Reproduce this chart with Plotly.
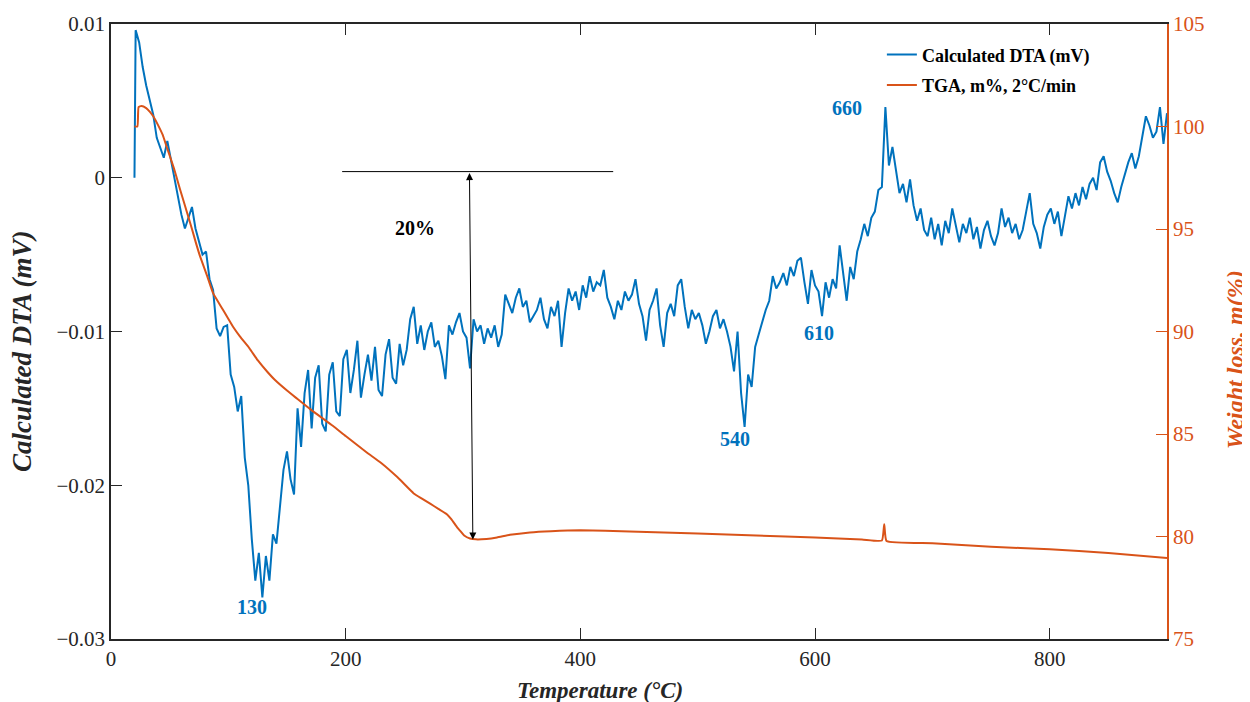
import plotly.graph_objects as go

# ---------------- data ----------------
# DTA signal (mV) on a 3 °C grid (plus the start point at 20 °C)
dta_temp = [20] + list(range(21, 901, 3))
dta_mV = [
    0.0000,
    0.0096, 0.0088, 0.0072, 0.0060, 0.0050, 0.0041, 0.0026, 0.0020, 0.0013, 0.0024,      # 21-48
    0.0012, 0.0002, -0.0012, -0.0024, -0.0033, -0.0026, -0.0019, -0.0033, -0.0042, -0.0050,  # 51-78
    -0.0048, -0.0066, -0.0073, -0.0098, -0.0103, -0.0097, -0.0096, -0.0128, -0.0136, -0.0152,  # 81-108
    -0.0142, -0.0182, -0.0200, -0.0235, -0.0262, -0.0244, -0.0273, -0.0246, -0.0262, -0.0232,  # 111-138
    -0.0238, -0.0214, -0.0190, -0.0178, -0.0196, -0.0206, -0.0150, -0.0175, -0.0140, -0.0125,  # 141-168
    -0.0163, -0.0130, -0.0122, -0.0160, -0.0165, -0.0128, -0.0120, -0.0152, -0.0155, -0.0118,  # 171-198
    -0.0112, -0.0140, -0.0125, -0.0106, -0.0143, -0.0128, -0.0115, -0.0132, -0.0110, -0.0138,  # 201-228
    -0.0142, -0.0115, -0.0105, -0.0130, -0.0134, -0.0108, -0.0122, -0.0112, -0.0092, -0.0084,  # 231-258
    -0.0108, -0.0096, -0.0112, -0.0100, -0.0094, -0.0110, -0.0106, -0.0116, -0.0131, -0.0096,  # 261-288
    -0.0102, -0.0094, -0.0088, -0.0100, -0.0104, -0.0124, -0.0092, -0.0100, -0.0096, -0.0108,  # 291-318
    -0.0098, -0.0104, -0.0096, -0.0110, -0.0102, -0.0076, -0.0082, -0.0088, -0.0078, -0.0072,  # 321-348
    -0.0084, -0.0080, -0.0094, -0.0090, -0.0086, -0.0078, -0.0092, -0.0098, -0.0084, -0.0090,  # 351-378
    -0.0080, -0.0110, -0.0088, -0.0072, -0.0080, -0.0074, -0.0086, -0.0070, -0.0078, -0.0064,  # 381-408
    -0.0074, -0.0068, -0.0070, -0.0060, -0.0078, -0.0084, -0.0092, -0.0080, -0.0086, -0.0074,  # 411-438
    -0.0080, -0.0076, -0.0066, -0.0082, -0.0090, -0.0106, -0.0086, -0.0080, -0.0072, -0.0096,  # 441-468
    -0.0110, -0.0088, -0.0082, -0.0090, -0.0070, -0.0066, -0.0084, -0.0098, -0.0086, -0.0092,  # 471-498
    -0.0088, -0.0096, -0.0108, -0.0100, -0.0090, -0.0086, -0.0098, -0.0092, -0.0100, -0.0110,  # 501-528
    -0.0126, -0.0100, -0.0140, -0.0162, -0.0128, -0.0136, -0.0110, -0.0102, -0.0094, -0.0086,  # 531-558
    -0.0080, -0.0064, -0.0072, -0.0068, -0.0062, -0.0070, -0.0058, -0.0064, -0.0054, -0.0052,  # 561-588
    -0.0068, -0.0082, -0.0060, -0.0070, -0.0074, -0.0090, -0.0068, -0.0078, -0.0066, -0.0072,  # 591-618
    -0.0044, -0.0062, -0.0080, -0.0058, -0.0066, -0.0048, -0.0040, -0.0030, -0.0038, -0.0026,  # 621-648
    -0.0022, -0.0008, -0.0006, 0.0046, 0.0008, 0.0020, 0.0004, -0.0010, -0.0004, -0.0016,     # 651-678
    -0.0001, -0.0018, -0.0028, -0.0020, -0.0034, -0.0038, -0.0026, -0.0040, -0.0030, -0.0044,  # 681-708
    -0.0028, -0.0036, -0.0020, -0.0032, -0.0042, -0.0030, -0.0036, -0.0026, -0.0040, -0.0032,  # 711-738
    -0.0046, -0.0034, -0.0028, -0.0038, -0.0044, -0.0036, -0.0020, -0.0032, -0.0026, -0.0036,  # 741-768
    -0.0030, -0.0040, -0.0034, -0.0022, -0.0010, -0.0030, -0.0036, -0.0046, -0.0032, -0.0024,  # 771-798
    -0.0020, -0.0030, -0.0022, -0.0038, -0.0024, -0.0012, -0.0020, -0.0010, -0.0018, -0.0006,  # 801-828
    -0.0014, -0.0004, 0.0000, -0.0008, 0.0010, 0.0014, 0.0004, -0.0002, -0.0010, -0.0016,      # 831-858
    -0.0006, 0.0002, 0.0010, 0.0016, 0.0006, 0.0014, 0.0026, 0.0040, 0.0034, 0.0026,           # 861-888
    0.0030, 0.0046, 0.0022, 0.0042,                                                             # 891-900
]

# TGA weight (%)
tga_temp = [20, 22.5, 23.5, 26, 30, 33, 36, 40, 44, 47.5,
            50.5, 53.5, 56, 59, 63, 69, 72.5, 76, 82, 87,
            95, 104, 110, 118, 125, 133, 140, 150, 158, 170,
            189, 200, 218, 230, 244, 258, 265, 272, 279, 286,
            290, 295, 298, 301, 306, 311, 320, 329, 340, 357,
            375, 400, 442, 500, 550, 600, 640, 657, 659, 661,
            700, 750, 800, 850, 900]
tga_w = [100.0, 100.0, 100.95, 101.0, 100.9, 100.73, 100.5, 100.08, 99.6, 99.0,
         98.5, 97.98, 97.5, 96.9, 96.15, 95.0, 94.3, 93.65, 92.7, 91.87,
         91.1, 90.23, 89.75, 89.18, 88.6, 88.05, 87.62, 87.12, 86.75, 86.2,
         85.4, 84.9, 84.1, 83.6, 82.9, 82.1, 81.85, 81.6, 81.35, 81.1,
         80.85, 80.45, 80.25, 80.05, 79.9, 79.86, 79.88, 79.95, 80.08, 80.2,
         80.26, 80.3, 80.25, 80.15, 80.05, 79.95, 79.85, 79.8, 80.6, 79.78,
         79.67, 79.5, 79.38, 79.2, 78.95]

x_ticks = [0, 200, 400, 600, 800]
y_left_ticks = [0.01, 0, -0.01, -0.02, -0.03]
y_left_text = ["0.01", "0", "\u22120.01", "\u22120.02", "\u22120.03"]
y_right_ticks = [75, 80, 85, 90, 95, 100, 105]

peak_labels = ["130", "540", "610", "660"]
peak_label_T = [120, 532, 603, 627]
peak_label_v = [-0.0279, -0.0170, -0.0101, 0.00455]

# ---------------- figure ----------------
BLUE = "#0072BD"
ORANGE = "#D95319"
DARK = "#262626"
SERIF = "Liberation Serif"

fig = go.Figure()
fig.add_trace(go.Scatter(
    x=dta_temp, y=dta_mV, mode="lines", name="Calculated DTA (mV)",
    line=dict(color=BLUE, width=2), yaxis="y", legendgroup="a"))
fig.add_trace(go.Scatter(
    x=tga_temp, y=tga_w, mode="lines", name="TGA, m%, 2\u00b0C/min",
    line=dict(color=ORANGE, width=2, shape="spline", smoothing=0.4),
    yaxis="y2", legendgroup="b"))

axis_common = dict(showgrid=False, zeroline=False, ticks="inside", ticklen=11,
                   tickwidth=1, linewidth=1.5, automargin=False)

# the page body adds an 8 px offset, so the figure is 8 px smaller on each side
fig.update_layout(
    width=1242, height=694,
    paper_bgcolor="white", plot_bgcolor="white",
    margin=dict(l=103, r=83, t=16, b=63),
    font=dict(family=SERIF, size=21, color=DARK),
    xaxis=dict(range=[0, 900], tickvals=x_ticks, linecolor=DARK,
               showline=True, mirror="ticks", tickcolor=DARK, **axis_common),
    yaxis=dict(range=[-0.03, 0.01], tickvals=y_left_ticks, ticktext=y_left_text,
               linecolor=DARK, showline=True, tickcolor=DARK, **axis_common),
    yaxis2=dict(range=[75, 105], tickvals=y_right_ticks, overlaying="y", side="right",
                linecolor=ORANGE, showline=True, tickcolor=ORANGE,
                tickfont=dict(color=ORANGE), **axis_common),
    legend=dict(x=0.73, y=0.98, xanchor="left", yanchor="top",
                bgcolor="rgba(0,0,0,0)", tracegroupgap=4,
                font=dict(family=SERIF, size=18, color="black", weight="bold")),
    showlegend=True,
)

# axis titles (placed as in the reference, slightly off-centre)
fig.add_annotation(x=0.4632, y=-0.0835, xref="paper", yref="paper",
                   text="<b><i>Temperature (\u00b0C)</i></b>", showarrow=False,
                   xanchor="center", yanchor="middle",
                   font=dict(family=SERIF, size=23, color=DARK))
fig.add_annotation(x=-0.0843, y=0.4683, xref="paper", yref="paper",
                   text="<b><i>Calculated DTA (mV)</i></b>", showarrow=False,
                   textangle=-90, xanchor="center", yanchor="middle",
                   font=dict(family=SERIF, size=27, color=DARK))
fig.add_annotation(x=1.0645, y=0.4536, xref="paper", yref="paper",
                   text="<b><i>Weight loss, m(%)</i></b>", showarrow=False,
                   textangle=-90, xanchor="center", yanchor="middle",
                   font=dict(family=SERIF, size=24, color=ORANGE))

# 20 % marker: horizontal reference line and double arrow
fig.add_shape(type="line", xref="x", yref="y2", x0=197, x1=428, y0=97.8, y1=97.8,
              line=dict(color="black", width=1))
fig.add_annotation(x=308.4, y=79.85, ax=305.5, ay=97.8, xref="x", yref="y2",
                   axref="x", ayref="y2", text="", showarrow=True,
                   arrowhead=2, startarrowhead=2, arrowside="end+start",
                   arrowsize=1.4, arrowwidth=1, arrowcolor="black",
                   standoff=0, startstandoff=0)
fig.add_annotation(x=259, y=-0.0033, xref="x", yref="y", text="<b>20%</b>",
                   showarrow=False, font=dict(family=SERIF, size=20, color="black"))

for lab, t, v in zip(peak_labels, peak_label_T, peak_label_v):
    fig.add_annotation(x=t, y=v, xref="x", yref="y", text="<b>" + lab + "</b>",
                       showarrow=False, font=dict(family=SERIF, size=20, color=BLUE))

fig.write_html("out.html")
